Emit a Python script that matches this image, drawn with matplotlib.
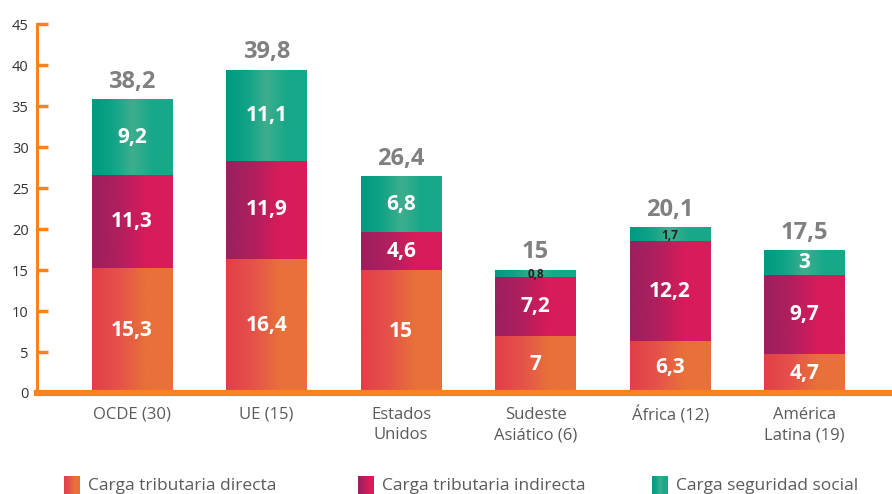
import numpy as np
import matplotlib.pyplot as plt
from matplotlib.colors import LinearSegmentedColormap

plt.rcParams['font.family'] = ['Open Sans', 'DejaVu Sans']

categories = ['OCDE (30)', 'UE (15)', 'Estados\nUnidos', 'Sudeste\nAsiático (6)',
              'África (12)', 'América\nLatina (19)']
directa = [15.3, 16.4, 15, 7, 6.3, 4.7]
indirecta = [11.3, 11.9, 4.6, 7.2, 12.2, 9.7]
social = [9.2, 11.1, 6.8, 0.8, 1.7, 3]
totales = ['38,2', '39,8', '26,4', '15', '20,1', '17,5']
series_names = ['Carga tributaria directa', 'Carga tributaria indirecta', 'Carga seguridad social']

orange = '#F7821E'
cmaps = [
    LinearSegmentedColormap.from_list('d', ['#E33E48', '#E5524A', '#E8703A', '#E8703A']),
    LinearSegmentedColormap.from_list('i', ['#9C1F5E', '#B01F5E', '#D81B5A', '#DA1B5B']),
    LinearSegmentedColormap.from_list('s', ['#009A82', '#0FA387', '#3DAE8E', '#17A889', '#17A889']),
]

def fmt(v):
    return ('%g' % v).replace('.', ',')

fig = plt.figure(figsize=(8.92, 4.94), dpi=100)
ax = fig.add_axes([0.0415, 0.2045, 0.9585, 0.7465])

grad = np.linspace(0, 1, 64).reshape(1, -1)
w = 0.6
x = np.arange(len(categories))
for i in x:
    bottom = 0
    for k, vals in enumerate([directa, indirecta, social]):
        v = vals[i]
        ax.imshow(grad, cmap=cmaps[k], aspect='auto', zorder=1,
                  extent=(i - w / 2, i + w / 2, bottom, bottom + v))
        if v >= 2:
            ax.text(i, bottom + v / 2, fmt(v), ha='center', va='center', color='white',
                    fontsize=15, fontweight='bold', zorder=3)
        else:
            ax.text(i, bottom + v / 2 - 0.15, fmt(v), ha='center', va='center', color='#222222',
                    fontsize=8.5, fontweight='bold', zorder=3)
        bottom += v
    ax.text(i, bottom + 0.7, totales[i], ha='center', va='bottom', color='#808080',
            fontsize=17, fontweight='bold', zorder=3)

ax.set_xlim(-0.707, 5.65)
ax.set_ylim(0, 45)
ax.set_yticks(range(0, 46, 5))
ax.set_xticks(x)
ax.set_xticklabels(categories, color='#5a5a5a', fontsize=12, linespacing=1.35)
ax.tick_params(axis='x', length=0, pad=10)
ax.tick_params(axis='y', direction='in', length=8, width=2.5, color=orange,
               labelsize=10.5, labelcolor='#333333', pad=6)
for s in ['top', 'right']:
    ax.spines[s].set_visible(False)
ax.spines['left'].set_color(orange)
ax.spines['left'].set_linewidth(2.2)
ax.spines['bottom'].set_color(orange)
ax.spines['bottom'].set_linewidth(4.5)
ax.spines['bottom'].set_zorder(4)

# legend
lg = fig.add_axes([0, 0, 1, 0.06])
lg.axis('off')
for k, name in enumerate(series_names):
    x0 = 64 + k * 294
    lg.imshow(grad, cmap=cmaps[k], aspect='auto', extent=(x0, x0 + 16, 0, 18))
    lg.text(x0 + 24, 8, name, ha='left', va='center', color='#5a5a5a', fontsize=12.5)
lg.set_xlim(0, 892)
lg.set_ylim(0, 30)

fig.savefig('out.png', dpi=100)
